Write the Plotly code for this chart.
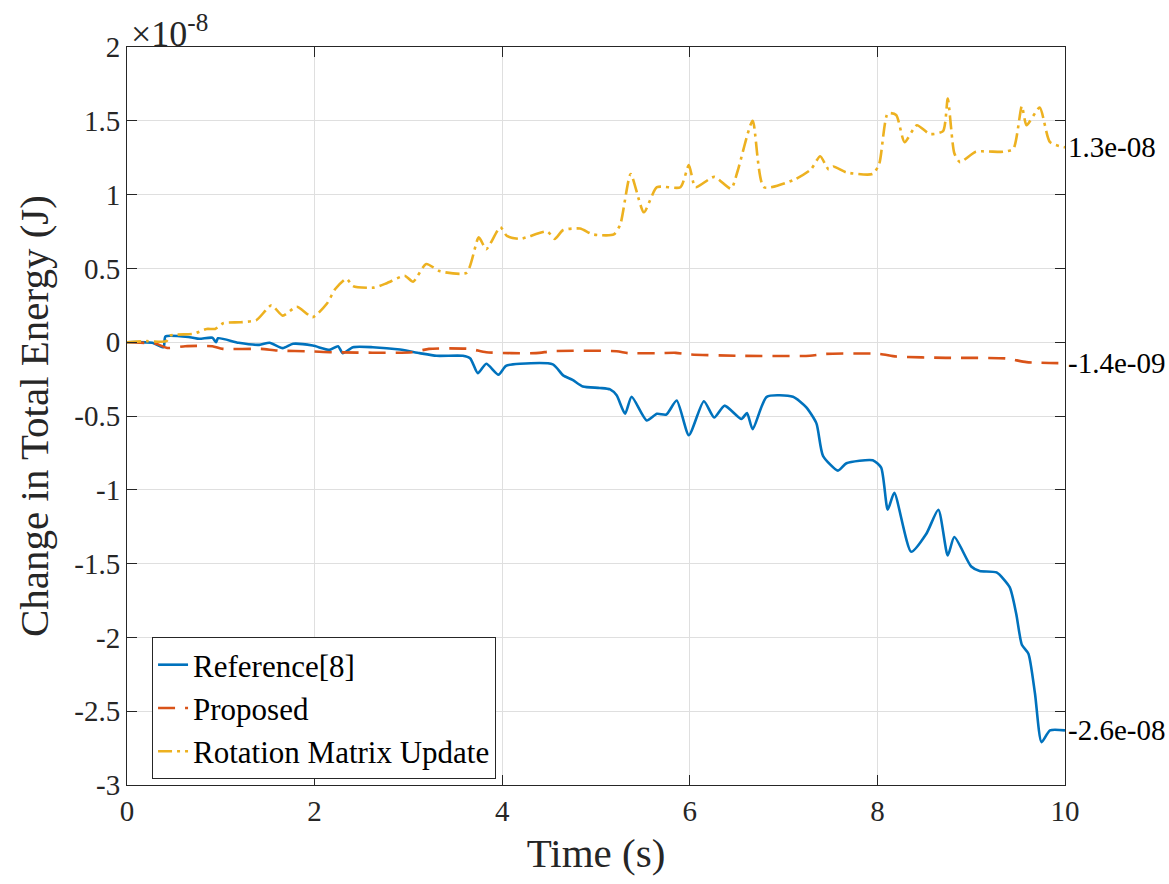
import plotly.graph_objects as go

# Values in units of 1e-8 J
SCALE = 1e-8

t_ref = [0, 0.27, 0.39, 0.41, 0.67, 0.77, 0.91, 0.95, 0.97, 1.19, 1.41, 1.52, 1.66, 1.77, 1.98,
         2.16, 2.25, 2.30, 2.41, 2.62, 2.91, 3.12, 3.30, 3.58, 3.66, 3.74, 3.83, 3.96, 4.04, 4.19,
         4.54, 4.65, 4.75, 4.86, 5.04, 5.15, 5.22, 5.31, 5.38, 5.54, 5.65, 5.75, 5.86, 5.99, 6.15,
         6.26, 6.37, 6.55, 6.61, 6.67, 6.82, 7.10, 7.24, 7.35, 7.42, 7.58, 7.67, 7.95, 8.04, 8.11,
         8.18, 8.36, 8.52, 8.65, 8.75, 8.82, 9.00, 9.09, 9.27, 9.41, 9.48, 9.54, 9.61, 9.68, 9.75,
         9.84, 10.0]
v_ref = [0, -0.004, -0.034, 0.039, 0.034, 0.023, 0.03, 0.0, 0.027, -0.004, -0.018, -0.004, -0.04,
         -0.011, -0.023, -0.052, -0.027, -0.074, -0.034, -0.034, -0.05, -0.074, -0.092, -0.092,
         -0.11, -0.21, -0.146, -0.22, -0.16, -0.146, -0.15, -0.225, -0.255, -0.30, -0.31, -0.32,
         -0.36, -0.485, -0.37, -0.53, -0.485, -0.49, -0.395, -0.63, -0.40, -0.51, -0.43, -0.52,
         -0.48, -0.59, -0.37, -0.37, -0.44, -0.55, -0.77, -0.87, -0.82, -0.80, -0.85, -1.135,
         -1.02, -1.42, -1.30, -1.135, -1.445, -1.32, -1.52, -1.55, -1.56, -1.66, -1.84, -2.05,
         -2.11, -2.38, -2.71, -2.63, -2.63]

t_prop = [0, 0.31, 0.43, 0.62, 0.91, 1.02, 1.43, 1.60, 1.98, 2.19, 3.04, 3.22, 3.65, 3.83, 4.36,
          4.54, 5.22, 5.34, 5.68, 5.85, 6.00, 6.54, 7.28, 7.45, 8.02, 8.20, 8.73, 9.37, 9.59, 10.0]
v_prop = [0, -0.011, -0.039, -0.027, -0.027, -0.045, -0.045, -0.056, -0.063, -0.068, -0.068,
          -0.045, -0.045, -0.068, -0.074, -0.061, -0.061, -0.074, -0.074, -0.072, -0.083, -0.092,
          -0.092, -0.079, -0.079, -0.097, -0.106, -0.11, -0.135, -0.142]

t_rot = [0, 0.21, 0.42, 0.46, 0.71, 0.85, 0.94, 1.03, 1.21, 1.38, 1.54, 1.66, 1.81, 1.98, 2.13,
         2.22, 2.34, 2.41, 2.63, 2.77, 2.96, 3.05, 3.19, 3.34, 3.62, 3.75, 3.83, 3.98, 4.05, 4.19,
         4.48, 4.56, 4.65, 4.83, 4.97, 5.19, 5.26, 5.37, 5.51, 5.65, 5.90, 5.99, 6.06, 6.26, 6.44,
         6.51, 6.67, 6.79, 7.11, 7.29, 7.39, 7.48, 7.53, 7.67, 7.95, 8.02, 8.11, 8.20, 8.29, 8.42,
         8.56, 8.70, 8.75, 8.82, 8.88, 9.05, 9.34, 9.45, 9.54, 9.59, 9.73, 9.84, 10.0]
v_rot = [0, 0.007, 0.007, 0.045, 0.057, 0.09, 0.09, 0.13, 0.135, 0.15, 0.25, 0.18, 0.24, 0.17,
         0.26, 0.36, 0.43, 0.38, 0.37, 0.40, 0.45, 0.41, 0.53, 0.48, 0.47, 0.71, 0.63, 0.78, 0.72,
         0.70, 0.75, 0.70, 0.76, 0.77, 0.73, 0.73, 0.80, 1.14, 0.88, 1.05, 1.05, 1.20, 1.05, 1.12,
         1.04, 1.16, 1.50, 1.05, 1.10, 1.17, 1.26, 1.17, 1.19, 1.15, 1.14, 1.21, 1.55, 1.54, 1.355,
         1.47, 1.41, 1.43, 1.65, 1.28, 1.22, 1.29, 1.29, 1.31, 1.60, 1.47, 1.59, 1.355, 1.32]

series_names = ["Reference[8]", "Proposed", "Rotation Matrix Update"]
y_ticks = [2, 1.5, 1, 0.5, 0, -0.5, -1, -1.5, -2, -2.5, -3]
x_ticks = [0, 2, 4, 6, 8, 10]

FONT = "Liberation Serif"
AX = "#262626"

series = [
    (t_ref, v_ref, series_names[0], "#0072BD", "solid"),
    (t_prop, v_prop, series_names[1], "#D95319", "17px,10px"),
    (t_rot, v_rot, series_names[2], "#EDB120", "14px,5px,3px,5px"),
]

fig = go.Figure()
for t, v, name, color, dash in series:
    fig.add_trace(go.Scatter(
        x=t, y=v, mode="lines", name=name,
        line=dict(color=color, width=2.6, dash=dash, shape="spline", smoothing=0.6),
    ))

annotations = []
for t, v, name, color, dash in series:
    annotations.append(dict(
        x=t[-1], y=v[-1], xref="x", yref="y", text=f"{v[-1] * SCALE:.1e}",
        showarrow=False, xanchor="left", yanchor="middle", xshift=1,
        font=dict(family=FONT, size=29, color="black"),
    ))
annotations.append(dict(
    x=0, y=1, xref="paper", yref="paper", text="×10<sup>-8</sup>",
    showarrow=False, xanchor="left", yanchor="bottom", xshift=2, yshift=-9,
    font=dict(family=FONT, size=36, color=AX),
))


def fmt(v):
    return f"{v:g}"


fig.update_layout(
    width=1169, height=884,
    margin=dict(l=127, r=104, t=47, b=99),
    paper_bgcolor="white", plot_bgcolor="white",
    font=dict(family=FONT, color=AX),
    showlegend=True,
    legend=dict(
        x=0.0267, y=0.2005, xanchor="left", yanchor="top",
        bgcolor="white", bordercolor=AX, borderwidth=1,
        font=dict(family=FONT, size=31, color="black"),
        tracegroupgap=0,
    ),
    annotations=annotations,
)
fig.update_xaxes(
    range=[0, 10], tickvals=x_ticks, ticktext=[fmt(v) for v in x_ticks],
    ticks="inside", ticklen=10, tickcolor=AX, showline=True, linecolor=AX, linewidth=1,
    mirror="ticks", showgrid=True, gridcolor="#dfdfdf", gridwidth=1, zeroline=False,
    tickfont=dict(family=FONT, size=29, color=AX),
    title=dict(text="Time (s)", font=dict(family=FONT, size=41, color=AX), standoff=12),
)
fig.update_yaxes(
    range=[-3, 2], tickvals=y_ticks, ticktext=[fmt(v) for v in y_ticks],
    ticks="inside", ticklen=10, tickcolor=AX, showline=True, linecolor=AX, linewidth=1,
    mirror="ticks", showgrid=True, gridcolor="#dfdfdf", gridwidth=1, zeroline=False,
    tickfont=dict(family=FONT, size=29, color=AX),
    title=dict(text="Change in Total Energy (J)", font=dict(family=FONT, size=41, color=AX), standoff=12),
)

fig.write_html("out.html")
